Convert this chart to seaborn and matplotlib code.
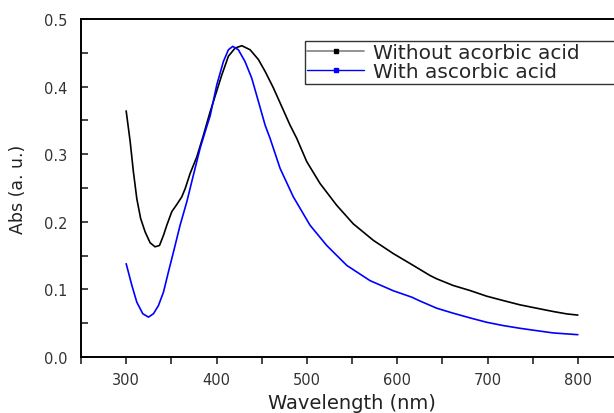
import numpy as np
import pandas as pd
import matplotlib
matplotlib.use("Agg")
import matplotlib.pyplot as plt
from matplotlib.lines import Line2D
from matplotlib.ticker import MultipleLocator, FormatStrFormatter
import seaborn as sns

wl_without = [300, 304.4, 308, 311.8, 316, 321, 326.5, 332, 336.9, 341.3, 345, 350.5, 356,
              361.6, 365.3, 370.8, 378.2, 385.5, 393, 396.6, 405.8, 413.2, 420.6, 428, 437.2,
              446.4, 453.8, 463, 472.2, 481.4, 488.8, 499.9, 514.6, 533, 551.4, 573.6, 595.7,
              617.8, 636.3, 643.7, 662, 680.5, 699, 717.4, 735.8, 754.3, 772.7, 787.5, 800]
abs_without = [0.364, 0.319, 0.274, 0.234, 0.205, 0.185, 0.169, 0.163, 0.165, 0.180, 0.195,
               0.215, 0.2255, 0.237, 0.249, 0.2715, 0.296, 0.328, 0.363, 0.378, 0.417, 0.445,
               0.457, 0.4605, 0.4545, 0.440, 0.4225, 0.398, 0.3705, 0.343, 0.3235, 0.289,
               0.2567, 0.2245, 0.197, 0.1726, 0.153, 0.1355, 0.1206, 0.1157, 0.1058, 0.0984,
               0.090, 0.0835, 0.0772, 0.0722, 0.0673, 0.0638, 0.062]
wl_with = [300, 306.3, 311.8, 318.4, 324.7, 330.2, 335.7, 341.3, 346.8, 352.3, 359.7, 367.1,
           374.4, 381.9, 389, 393, 400.3, 407.6, 413.2, 418, 424.2, 431.6, 439, 446.4, 453.8,
           459.3, 470.4, 485, 503.5, 522, 544.2, 569.9, 595.7, 616, 625, 643.7, 662, 680.5,
           699, 717.4, 735.8, 754.3, 772.7, 800]
abs_with = [0.138, 0.106, 0.081, 0.064, 0.059, 0.064, 0.076, 0.096, 0.126, 0.155, 0.195,
            0.2295, 0.269, 0.309, 0.340, 0.357, 0.4025, 0.437, 0.4545, 0.4595, 0.4545, 0.437,
            0.4125, 0.378, 0.343, 0.3234, 0.279, 0.237, 0.195, 0.165, 0.1355, 0.113, 0.098,
            0.0886, 0.083, 0.0722, 0.0648, 0.0579, 0.0514, 0.0465, 0.0425, 0.039, 0.0356,
            0.033]
labels = ["Without acorbic acid", "With ascorbic acid"]
colors = ["black", "#0000ff"]

df = pd.concat([
    pd.DataFrame({"wl": wl_without, "abs": abs_without, "series": labels[0]}),
    pd.DataFrame({"wl": wl_with, "abs": abs_with, "series": labels[1]}),
])

sns.set_style("ticks")
plt.rcParams["font.family"] = ["DejaVu Sans"]

fig = plt.figure(figsize=(6.14, 4.14), dpi=100)
ax = fig.add_axes([81/614, 1-358/414, (623-81)/614, (358-20)/414])

sns.lineplot(data=df, x="wl", y="abs", hue="series", palette=colors, ax=ax,
             lw=1.2, legend=False, sort=False)

ax.set_xlim(250, 850)
ax.set_ylim(0, 0.5)
ax.xaxis.set_major_locator(MultipleLocator(100))
ax.xaxis.set_minor_locator(MultipleLocator(50))
ax.yaxis.set_major_locator(MultipleLocator(0.1))
ax.yaxis.set_minor_locator(MultipleLocator(0.05))
ax.tick_params(axis="x", which="both", direction="out", length=5, width=1.2,
               labelsize=10.5, labelcolor="#333333", pad=6)
ax.tick_params(axis="y", which="both", direction="in", length=5, width=1.2,
               labelsize=10.5, labelcolor="#333333", pad=10)
ax.yaxis.set_major_formatter(FormatStrFormatter("%.1f"))
for s in ax.spines.values():
    s.set_linewidth(1.4)
    s.set_color("black")

ax.set_xlabel("Wavelength (nm)", fontsize=14, color="#222222", labelpad=4)
ax.set_ylabel("Abs (a. u.)", fontsize=12.5, color="#222222", labelpad=12)

handles = [
    Line2D([], [], color="gray", lw=1.2, marker="s", markersize=3,
           markerfacecolor="black", markeredgecolor="black"),
    Line2D([], [], color="#0000ff", lw=1.0, marker="s", markersize=3,
           markerfacecolor="#0000ff", markeredgecolor="#0000ff"),
]
leg = fig.legend(handles, labels, loc="upper left",
                 bbox_to_anchor=(305/614, 1-86/414, (640-305)/614, 44/414), mode="expand",
                 fontsize=14.5, frameon=True, fancybox=False, framealpha=1,
                 edgecolor="#333333", handlelength=2.8, handletextpad=0.45,
                 borderpad=0.12, labelspacing=0.0, borderaxespad=0)
leg.get_frame().set_linewidth(1.0)

fig.savefig("out.png", dpi=100)
